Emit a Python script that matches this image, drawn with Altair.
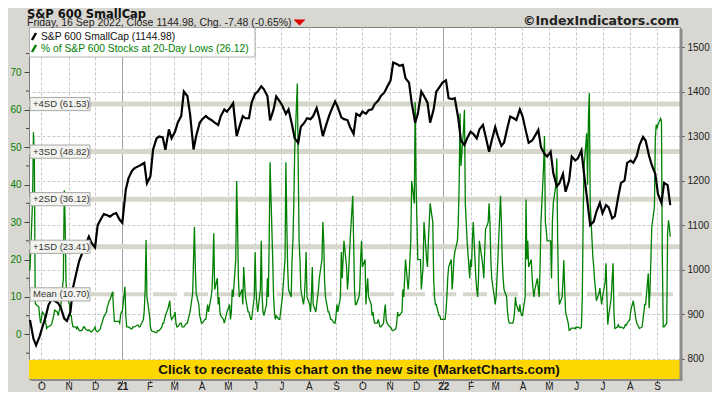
import altair as alt
import pandas as pd

# ---------------- data ----------------
fridays = pd.date_range("2020-09-18", "2022-09-16", freq="W-FRI")
dates = [fridays[0]]
for f in fridays[1:]:
    dates += [f - pd.Timedelta(days=3), f]
date_str = [d.strftime("%Y-%m-%d") for d in dates]

# S&P 600 SmallCap close (right axis), sampled Tue/Fri
sml = [887,
       845, 830, 850, 870, 895, 920, 935, 930, 925, 915, 890, 885, 905, 960, 995, 1020,
       1040, 1055, 1074, 1060, 1050, 1100, 1115, 1125, 1122, 1119, 1125, 1127, 1112, 1105,
       1180, 1205, 1222, 1228, 1232, 1235, 1240, 1194, 1210, 1270, 1295, 1299, 1297, 1269,
       1315, 1295, 1310, 1330, 1345, 1400, 1390, 1350, 1270, 1300, 1330, 1338, 1345, 1340,
       1335, 1330, 1325, 1345, 1360, 1355, 1365, 1374, 1300, 1320, 1345, 1340, 1340, 1375,
       1395, 1400, 1412, 1405, 1390, 1335, 1360, 1389, 1378, 1368, 1350, 1360, 1325, 1295,
       1285, 1321, 1330, 1340, 1338, 1345, 1363, 1340, 1300, 1320, 1345, 1360, 1378, 1365,
       1342, 1338, 1336, 1320, 1305, 1350, 1345, 1355, 1350, 1358, 1360, 1372, 1380, 1390,
       1398, 1410, 1425, 1465, 1462, 1458, 1460, 1430, 1420, 1375, 1330, 1350, 1400, 1390,
       1375, 1330, 1360, 1400, 1411, 1420, 1425, 1385, 1383, 1385, 1340, 1290, 1280, 1295,
       1310, 1305, 1295, 1315, 1325, 1300, 1265, 1290, 1320, 1300, 1278, 1285, 1320, 1344,
       1340, 1336, 1360, 1345, 1310, 1285, 1290, 1300, 1314, 1275, 1260, 1254, 1265, 1217,
       1187, 1194, 1215, 1175, 1200, 1254, 1245, 1250, 1268, 1215, 1150, 1100, 1108, 1130,
       1150, 1127, 1145, 1140, 1115, 1120, 1165, 1195, 1200, 1240, 1245, 1240, 1255, 1280,
       1298, 1290, 1255, 1235, 1215, 1170, 1150, 1195, 1190, 1144.98]

# % of S&P 600 stocks at 20-day lows (left axis), daily (Mon-Fri), week by week
day_dates = [d.strftime("%Y-%m-%d") for d in pd.bdate_range("2020-09-18", "2022-09-16")]
pct = [17,
       36, 54, 47, 8.4, 8,  7.4, 5, 3, 4, 6,  5, 3, 1.6, 2, 2,  2.5, 3, 4, 5, 6.5,
       6, 5, 6, 7, 7.4,  15, 38.5, 30, 14, 10,  8, 5, 5, 3, 2,  2, 1.5, 2, 1.5, 1,
       1, 1.5, 2, 2, 1.5,  1, 1.2, 1, 0.7, 0.7,  1.5, 2, 1, 0.8, 0.7,  1.5, 2.5, 3, 4, 4.7,
       6, 7.4, 8, 9, 9.2,  11.4, 7, 3.5, 3.5, 3.5,  3.5, 3, 5, 6, 6,  12.7, 5, 2, 2, 2,
       1.5, 1.5, 2, 2, 2,  2.5, 2.5, 2, 2, 2.5,  4, 6.5, 12, 25.2, 10,  5, 2, 1, 0.8, 0.8,
       0.5, 0.5, 1, 1, 1,  2, 3, 3, 4, 5,  7, 8, 9, 5, 4,  5, 6, 3, 2, 2,
       3, 3, 2, 2, 2,  3, 3, 4, 5, 6,  11, 20, 28.7, 18, 11,  8, 5, 4, 3, 3,
       4, 4, 6, 8, 6,  10, 12, 18, 27, 12,  15, 8, 10, 6, 5,  4, 3, 4, 5, 6,
       8, 4, 6, 12, 10,  20, 41, 30, 15, 10,  12, 8, 18, 14, 10,  6, 6, 5, 4, 4,
       10, 22, 12, 8, 6,  12, 25, 10, 6, 5,  8, 15, 10, 25, 46,  20, 10, 6, 4, 5,
       4, 4, 6, 8, 10,  20, 46, 30, 18, 12,  10, 20, 25, 35, 49,  67, 45, 25, 20, 12,
       8, 10, 15, 22, 10,  8, 6, 10, 18, 8,  6, 8, 10, 12, 15,  20, 30, 25, 14, 10,
       6, 6, 5, 4, 4,  3, 3, 5, 8, 6,  10, 22, 15, 20, 25,  18, 12, 15, 20, 25,
       37, 25, 12, 8, 8,  10, 12, 20, 25, 18,  20, 8, 12, 15, 10,  8, 5, 6, 4, 3,
       3, 4, 3, 2, 2,  3, 6, 8, 4, 3,  2, 2, 1.5, 1, 1,  1.5, 3, 6, 5, 5,
       6, 12, 10, 15, 20,  12, 15, 20, 25, 41,  35, 62, 40, 30, 20,  20, 12, 15, 18, 30,
       20, 18, 25, 30, 35,  30, 15, 10, 8, 8,  5, 5, 4, 4, 4,  4, 6, 10, 15, 18,
       20, 12, 15, 20, 22,  25, 30, 40, 59, 45,  55, 60, 35, 30, 25,  15, 20, 18, 25, 30,
       15, 12, 10, 15, 25,  20, 18, 15, 22, 28,  30, 35, 30, 20, 15,  10, 8, 10, 15, 20,
       37, 30, 20, 15, 12,  10, 6, 4, 3, 3,  3, 4, 6, 10, 8,  6, 8, 6, 5, 5,
       10, 36, 20, 25, 18,  20, 15, 12, 10, 12,  15, 12, 10, 18, 30,  45, 53, 30, 28, 25,
       25, 25, 15, 30, 35,  40, 47, 25, 12, 8,  10, 14, 19.8, 12, 6,  3, 1.1, 1.2, 1.5, 1.7,
       1.7, 1.5, 2, 1.8, 2,  1.6, 2, 10, 32, 45,  53.7, 40, 58, 64.4, 35,  20.7, 18, 14.5, 12, 9,
       11, 12.4, 10, 8, 10,  14, 19, 10, 2.6, 5,  10, 15, 19, 6, 1.6,  2, 2.6, 2, 1.8, 2,
       1.6, 2, 2.6, 2.5, 3,  4, 6, 7.4, 8, 9,  4, 3, 2.5, 2, 1.6,  2, 4, 6, 8, 8,
       16.3, 7, 12, 20, 28.7,  34, 52, 56, 55, 56,  57.7, 57, 20, 2, 2,  3, 27, 30.5, 28.7, 26.12]

sd_names = ["+4SD (61.53)", "+3SD (48.82)", "+2SD (36.12)", "+1SD (23.41)"]
sd_vals = [61.53, 48.82, 36.12, 23.41]
mean_name = "Mean (10.70)"
mean_val = 10.70

left_ticks = [0, 10, 20, 30, 40, 50, 60, 70]
left_minor = [-5, 5, 15, 25, 35, 45, 55, 65, 75]
right_ticks = [800, 900, 1000, 1100, 1200, 1300, 1400, 1500]
right_minor = [850, 950, 1050, 1150, 1250, 1350, 1450]

title_text = "S&P 600 SmallCap"
subtitle_text = "Friday, 16 Sep 2022, Close 1144.98, Chg. -7.48 (-0.65%)"
legend_1 = "S&P 600 SmallCap (1144.98)"
legend_2 = "% of S&P 600 Stocks at 20-Day Lows (26.12)"
banner_text = "Click to recreate this chart on the new site (MarketCharts.com)"
copyright_text = "\u00a9IndexIndicators.com"

df_sml = pd.DataFrame({"date": date_str, "sml": sml})
df_pct = pd.DataFrame({"date": day_dates[:len(pct)], "pct": pct})
sd_df = pd.DataFrame({"name": sd_names + [mean_name], "v": sd_vals + [mean_val]})

# ---------------- layout ----------------
W, H = 651, 352
LEFT_DOM = [-11.9, 82.1]
RIGHT_DOM = [754.4, 1545.0]
GREEN = "#008000"
FONT = "Liberation Sans"

months = []
for y, m in [(2020, 10), (2020, 11), (2020, 12)] + [(2021, i) for i in range(1, 13)] + [(2022, i) for i in range(1, 10)]:
    months.append(alt.DateTime(year=y, month=m, date=1, utc=True))

xscale = alt.Scale(type="utc", domain=[alt.DateTime(year=2020, month=9, date=16, hours=22, utc=True),
                                       alt.DateTime(year=2022, month=9, date=27, hours=2, utc=True)])
is_jan = "utcmonth(datum.value) == 0"
xaxis = alt.Axis(
    values=months,
    labelExpr="utcmonth(datum.value) == 0 ? utcFormat(datum.value, '%y') : substring(utcFormat(datum.value, '%b'), 0, 1)",
    labelFontWeight={"condition": {"test": is_jan, "value": "bold"}, "value": "normal"},
    grid=True,
    gridDash={"condition": {"test": is_jan, "value": []}, "value": [3, 2]},
    gridColor={"condition": {"test": is_jan, "value": "#a0a0a0"}, "value": "#c8c8c8"},
    gridWidth=1,
    domain=False, tickSize=4, tickColor="#444", labelPadding=6.5, labelBaseline="alphabetic",
    labelFont=FONT, labelFontSize=10, labelColor="#222", labelFlush=False, labelOverlap=False,
    title=None)

left_scale = alt.Scale(domain=LEFT_DOM, nice=False, zero=False)
right_scale = alt.Scale(domain=RIGHT_DOM, nice=False, zero=False)

left_axis = alt.Axis(orient="left", values=left_ticks, grid=False, domain=False, tickSize=5,
                     tickColor="#444", labelColor=GREEN, labelFont=FONT, labelFontSize=10,
                     labelPadding=3, format="d", title=None)
right_axis = alt.Axis(orient="right", values=right_ticks, grid=True, gridDash=[3, 2], gridColor="#c8c8c8",
                      domain=False, tickSize=4, tickColor="#444", labelColor="#222", labelFont=FONT,
                      labelFontSize=10, labelPadding=3, format="d", title=None)

one = alt.Data(values=[{}])
xenc = alt.X("date:T", scale=xscale, axis=xaxis, title=None)

bands = alt.Chart(pd.DataFrame({"v": sd_vals})).mark_rule(color="#d6d6cc", strokeWidth=5).encode(
    y=alt.Y("v:Q", scale=left_scale, axis=None), x=alt.value(0), x2=alt.value(W))
mean_band = alt.Chart(pd.DataFrame({"v": [mean_val]})).mark_rule(
    color="#d6d6cc", strokeWidth=4, strokeDash=[24, 7]).encode(
    y=alt.Y("v:Q", scale=left_scale, axis=None), x=alt.value(0), x2=alt.value(W))

lminor = alt.Chart(pd.DataFrame({"v": left_minor})).mark_rule(color="#444").encode(
    y=alt.Y("v:Q", scale=left_scale, axis=None), x=alt.value(-3), x2=alt.value(0))
rminor = alt.Chart(pd.DataFrame({"v": right_minor})).mark_rule(color="#444").encode(
    y=alt.Y("v:Q", scale=right_scale, axis=None), x=alt.value(W), x2=alt.value(W + 2))

green = alt.Chart(df_pct).mark_line(color=GREEN, strokeWidth=1.3).encode(
    x=xenc, y=alt.Y("pct:Q", scale=left_scale, axis=left_axis))
black = alt.Chart(df_sml).mark_line(color="#000000", strokeWidth=2.2).encode(
    x=xenc, y=alt.Y("sml:Q", scale=right_scale, axis=right_axis))

box_path = "M-1,-0.22H1V0.22H-1Z"
sd_boxes = alt.Chart(sd_df).mark_point(shape=box_path, size=3600, fill="#f3f3ef", stroke="#a8a8a8",
                                       strokeWidth=1, opacity=1, fillOpacity=1).encode(
    y=alt.Y("v:Q", scale=left_scale, axis=None), x=alt.value(31))
sd_text = alt.Chart(sd_df).mark_text(align="left", baseline="middle", font=FONT, fontSize=9.5,
                                     color="#333").encode(
    y=alt.Y("v:Q", scale=left_scale, axis=None), x=alt.value(4), text="name:N")

legend_box = alt.Chart(one).mark_rect(fill="white", stroke="#b0b0b0", strokeWidth=1).encode(
    x=alt.value(0.5), x2=alt.value(226), y=alt.value(0.5), y2=alt.value(30))
leg_t1 = alt.Chart(one).mark_text(text=legend_1, align="left", baseline="middle", font=FONT,
                                  fontSize=10.3, color="#111").encode(x=alt.value(12), y=alt.value(9.5))
leg_t2 = alt.Chart(one).mark_text(text=legend_2, align="left", baseline="middle", font=FONT,
                                  fontSize=10.3, color=GREEN).encode(x=alt.value(12), y=alt.value(21.5))
icon1 = alt.Chart(one).mark_rule(color="#000", strokeWidth=2.5).encode(
    x=alt.value(3), x2=alt.value(7), y=alt.value(13), y2=alt.value(6))
icon2 = alt.Chart(one).mark_rule(color=GREEN, strokeWidth=2.5).encode(
    x=alt.value(3), x2=alt.value(7), y=alt.value(25), y2=alt.value(18))

banner = alt.Chart(one).mark_rect(fill="#ffd700").encode(
    x=alt.value(0), x2=alt.value(W), y=alt.value(333), y2=alt.value(H))
banner_t = alt.Chart(one).mark_text(text=banner_text, align="center", baseline="middle",
                                    font=FONT, fontSize=13.5, fontWeight="bold", color="#111").encode(
    x=alt.value(330), y=alt.value(342.5))
shadow_r = alt.Chart(one).mark_rule(color="#8c8c8c", strokeWidth=3).encode(
    x=alt.value(W + 1), y=alt.value(2), y2=alt.value(H + 2))
shadow_b = alt.Chart(one).mark_rule(color="#8c8c8c", strokeWidth=2).encode(
    x=alt.value(2), x2=alt.value(W + 2), y=alt.value(H + 1))

title_t = alt.Chart(one).mark_text(text=title_text, align="left", baseline="alphabetic",
                                   font="DejaVu Sans", fontSize=11.5, fontWeight="bold",
                                   color="#111").encode(x=alt.value(-2), y=alt.value(-9.5))
sub_t = alt.Chart(one).mark_text(text=subtitle_text, align="left", baseline="alphabetic",
                                 font=FONT, fontSize=10.5, color="#222").encode(x=alt.value(-2), y=alt.value(-1))
tri = alt.Chart(one).mark_point(shape="M-1,-0.5L1,-0.5L0,0.5Z", size=121, fill="#dd0000",
                                stroke="#dd0000", strokeWidth=0.5, opacity=1, fillOpacity=1).encode(
    x=alt.value(270.5), y=alt.value(-4.5))
copy_t = alt.Chart(one).mark_text(text=copyright_text, align="right", baseline="alphabetic",
                                  font="DejaVu Sans", fontSize=12.5, fontWeight="bold",
                                  color="#222").encode(x=alt.value(W - 1), y=alt.value(-2.5))

chart = alt.layer(
    bands, mean_band, lminor, rminor, green, black, sd_boxes, sd_text,
    legend_box, leg_t1, leg_t2, icon1, icon2, banner, banner_t, shadow_r, shadow_b,
    title_t, sub_t, tri, copy_t
).resolve_scale(y="independent").properties(
    width=W, height=H,
    autosize=alt.AutoSizeParams(type="none"),
    padding={"left": 21, "top": 19, "right": 32, "bottom": 13},
    background="#d9d7d1"
).configure_view(stroke="#808080", strokeWidth=1, fill="white")

chart.save("out.html", embed_options={"renderer": "svg", "actions": False})
